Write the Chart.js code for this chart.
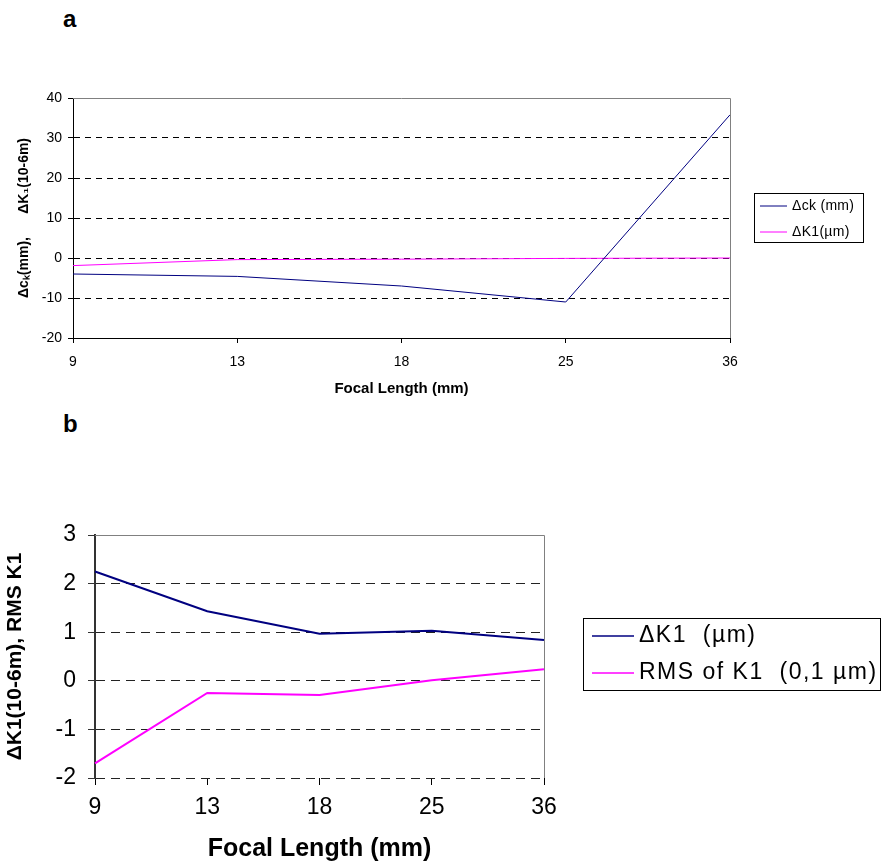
<!DOCTYPE html>
<html lang="en">

<head>
  <meta charset="UTF-8">
  <title>Focal length charts</title>
  <script src="https://cdn.jsdelivr.net/npm/chart.js"></script>
  <style>
    body { margin: 0; background: #fff; overflow: hidden; }
    #page { position: relative; width: 881px; height: 862px; overflow: hidden; font-family: 'Liberation Sans', Arial, sans-serif; }
    .tag { position: absolute; left: 63px; font-size: 24px; font-weight: bold; }
    .box { position: absolute; left: 0; width: 881px; }
  </style>
</head>

<body>
  <div id="page">
    <div class="tag" style="top: 5px;">a</div>
    <div class="box" style="top: 80px; height: 320px;"><canvas id="chartA"></canvas></div>
    <div class="tag" style="top: 410px;">b</div>
    <div class="box" style="top: 500px; height: 368px;"><canvas id="chartB"></canvas></div>
  </div>
</body>

</html>
<script>
  const focal = ['9', '13', '18', '25', '36'];

  // chart a
  const deltaCk = [-4.0, -4.6, -7.0, -11.0, 35.8];
  const deltaK1a = [-1.9, -0.4, -0.3, -0.1, 0.0];
  const ticksA = [-20, -10, 0, 10, 20, 30, 40];

  // chart b
  const deltaK1b = [2.25, 1.43, 0.97, 1.03, 0.84];
  const rmsK1 = [-1.70, -0.25, -0.29, 0.01, 0.24];
  const ticksB = [-2, -1, 0, 1, 2, 3];

  const FONT = 'Liberation Sans';
  const NAVY = '#000080';
  const MAGENTA = '#FF00FF';

  // frame + boxed legend, drawn by hand like the original
  const frame = {
    id: 'frame',
    afterDraw(chart, args, o) {
      const c = chart.ctx, a = chart.chartArea;
      c.save();
      c.strokeStyle = '#808080';
      c.lineWidth = 1;
      c.beginPath();
      c.moveTo(a.left, a.top + 0.5);
      c.lineTo(a.right + 0.5, a.top + 0.5);
      c.lineTo(a.right + 0.5, a.bottom);
      c.stroke();

      const L = o.legend;
      c.strokeStyle = '#000';
      c.strokeRect(L.x + 0.5, L.y + 0.5, L.w, L.h);
      c.font = L.size + 'px ' + FONT;
      c.letterSpacing = L.spacing;
      c.textBaseline = 'middle';
      c.fillStyle = '#000';
      chart.data.datasets.forEach((ds, i) => {
        const y = L.y + L.first + i * L.step;
        c.strokeStyle = ds.borderColor;
        c.lineWidth = L.lw;
        c.beginPath();
        c.moveTo(L.x + L.pad, y);
        c.lineTo(L.x + L.pad + L.line, y);
        c.stroke();
        c.fillText(ds.label, L.x + L.pad + L.line + L.gap, y);
      });
      c.restore();
    }
  };

  function makeChart(id, cfg) {
    return new Chart(document.getElementById(id), {
      type: 'line',
      data: {
        labels: focal,
        datasets: cfg.series.map(s => ({
          label: s.label, data: s.data, borderColor: s.color, backgroundColor: s.color,
          borderWidth: cfg.lw, pointRadius: 0, tension: 0
        }))
      },
      options: {
        responsive: true,
        maintainAspectRatio: false,
        animation: false,
        layout: { padding: { left: 0, right: cfg.padRight, top: cfg.padTop, bottom: 0 } },
        plugins: { legend: { display: false }, tooltip: { enabled: false }, frame: { legend: cfg.legend } },
        scales: {
          x: {
            offset: false,
            grid: { drawOnChartArea: false, drawTicks: true, tickLength: cfg.xTick, color: '#000' },
            border: { display: cfg.xBorder, color: cfg.axisColor, width: 1 },
            ticks: { color: '#000', font: { family: FONT, size: cfg.fs }, padding: cfg.xPad, maxRotation: 0 },
            title: {
              display: true, text: 'Focal Length (mm)', color: '#000',
              font: { family: FONT, size: cfg.xTitleFs, weight: 'bold' }, padding: { top: 0, bottom: cfg.xTitlePad }
            },
            afterFit: s => { s.height = cfg.xHeight; }
          },
          y: {
            min: cfg.ticks[0], max: cfg.ticks[cfg.ticks.length - 1],
            afterBuildTicks: s => { s.ticks = cfg.ticks.map(v => ({ value: v })); },
            grid: {
              color: c => (c.tick && c.tick.value === cfg.ticks[cfg.ticks.length - 1]) ? 'rgba(0,0,0,0)' : cfg.gridColor,
              tickColor: cfg.axisColor, tickLength: cfg.yTick, lineWidth: 1
            },
            border: { color: cfg.axisColor, width: cfg.axisWidth, dash: cfg.dash },
            ticks: { color: '#000', font: { family: FONT, size: cfg.fs }, padding: cfg.yPad },
            title: {
              display: true, text: cfg.yTitle, color: '#000',
              font: { family: FONT, size: cfg.yTitleFs, weight: 'bold' }, padding: { top: cfg.yTitlePad, bottom: 0 }
            },
            afterFit: s => { s.width = cfg.yWidth; }
          }
        }
      },
      plugins: [frame]
    });
  }

  makeChart('chartA', {
    series: [
      { label: 'Δck (mm)', data: deltaCk, color: NAVY },
      { label: 'ΔK1(µm)', data: deltaK1a, color: MAGENTA }
    ],
    ticks: ticksA, lw: 1, fs: 14, xTitleFs: 15, yTitleFs: 14,
    yTitle: 'Δcₖ(mm),      ΔK₁(10-6m)',
    padTop: 18, padRight: 151, yWidth: 73, xHeight: 62,
    xTick: 5, yTick: 5, xPad: 11, yPad: 6, xTitlePad: 2, yTitlePad: 16,
    axisColor: '#000', gridColor: '#000', axisWidth: 1, xBorder: true, dash: [6, 5],
    legend: { x: 754, y: 113, w: 109, h: 49, pad: 6, line: 27, gap: 5, first: 13, step: 26, size: 14, lw: 1, spacing: '0.3px' }
  });

  makeChart('chartB', {
    series: [
      { label: 'ΔK1  (µm)', data: deltaK1b, color: NAVY },
      { label: 'RMS of K1  (0,1 µm)', data: rmsK1, color: MAGENTA }
    ],
    ticks: ticksB, lw: 2, fs: 23, xTitleFs: 25, yTitleFs: 21,
    yTitle: 'ΔK1(10-6m), RMS K1',
    padTop: 35, padRight: 337, yWidth: 95, xHeight: 90,
    xTick: 7, yTick: 7, xPad: 9, yPad: 12, xTitlePad: 4, yTitlePad: 3,
    axisColor: '#333', gridColor: '#222', axisWidth: 2, xBorder: false, dash: [9, 6],
    legend: { x: 583, y: 118, w: 297, h: 72, pad: 9, line: 42, gap: 5, first: 18, step: 37, size: 23, lw: 1.5, spacing: '1.5px' }
  });
</script>
